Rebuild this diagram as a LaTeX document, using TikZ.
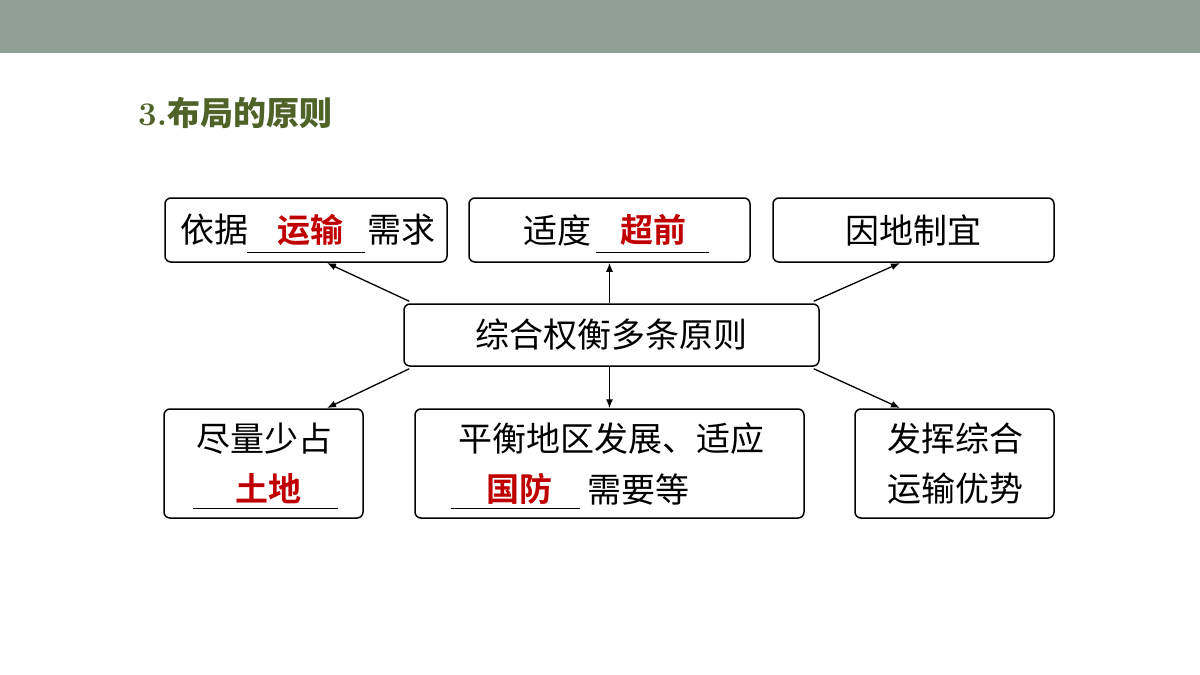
\documentclass[tikz,border=0pt]{standalone}
\usepackage{fontspec}
\usetikzlibrary{arrows.meta}
\newfontfamily\cjk{Noto Sans CJK SC}
\newfontfamily\cjkb{Noto Sans CJK SC Bold}
\definecolor{band}{RGB}{145,160,150}
\definecolor{ttl}{RGB}{79,98,40}
\definecolor{rd}{RGB}{192,0,0}
\begin{document}
\begin{tikzpicture}[x=1pt,y=-1pt,
 box/.style={draw,rounded corners=6pt,line width=1.5pt,inner sep=0pt},
 bt/.style={font=\cjk\fontsize{34}{40}\selectfont,inner sep=0pt},
 rt/.style={font=\cjkb\fontsize{33}{38}\selectfont,text=rd,inner sep=0pt},
 ar/.style={-{Latex[length=9pt,width=7pt]},line width=1.3pt}]
\useasboundingbox (0,0) rectangle (1200,675);
\fill[band] (0,0) rectangle (1200,53);
\node[anchor=west,inner sep=0pt,text=ttl,font=\bfseries\fontsize{33}{38}\selectfont] (title) at (138,113) {3.{\cjkb 布局的原则}};
% boxes
\node[box,minimum width=282pt,minimum height=64pt] (A) at (306,230) {};
\node[box,minimum width=281pt,minimum height=64pt] (B) at (609.5,230) {};
\node[box,minimum width=281pt,minimum height=64pt] (C) at (913.5,230) {};
\node[box,minimum width=415pt,minimum height=62pt] (M) at (611.5,335) {};
\node[box,minimum width=199pt,minimum height=109pt] (D) at (263.5,463.5) {};
\node[box,minimum width=389pt,minimum height=109pt] (E) at (609.5,463.5) {};
\node[box,minimum width=199pt,minimum height=109pt] (F) at (954.5,463.5) {};
% texts
\node[bt] (a1) at (214,230) {依据};
\draw[line width=0.9pt] (247,252) -- (365,252);
\node[rt] (a2) at (310,230) {运输};
\node[bt] (a3) at (401,230) {需求};
\node[bt] (b1) at (557,230) {适度};
\draw[line width=0.9pt] (596,252) -- (709,252);
\node[rt] (b2) at (653,230) {超前};
\node[bt] (c1) at (913.5,230) {因地制宜};
\node[bt] (m1) at (611.5,335) {综合权衡多条原则};
\node[bt] (d1) at (264,439) {尽量少占};
\draw[line width=0.9pt] (193,508) -- (338,508);
\node[rt] (d2) at (268,489) {土地};
\node[bt] (e1) at (611,439) {平衡地区发展、适应};
\draw[line width=0.9pt] (451,508) -- (580,508);
\node[rt] (e2) at (519,489) {国防};
\node[bt] (e3) at (638,489) {需要等};
\node[bt] (f1) at (955,439) {发挥综合};
\node[bt] (f2) at (955,489) {运输优势};
% arrows
\draw[ar] (M.north west) ++(6,-2) -- (327,263);
\draw[ar] (M.north) ++(-2,0) -- (B.south);
\draw[ar] (M.north east) ++(-6,-2) -- (900,263);
\draw[ar] (M.south west) ++(6,2) -- (327,408);
\draw[ar] (M.south) ++(-2,0) -- (E.north);
\draw[ar] (M.south east) ++(-6,2) -- (900,408);
\end{tikzpicture}
\end{document}
